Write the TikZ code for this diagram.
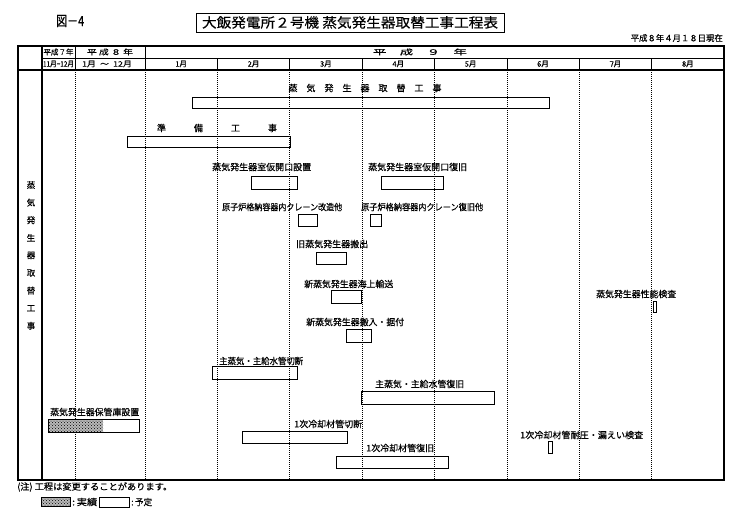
\documentclass[tikz,border=0pt]{standalone}
\usepackage{fontspec}
\usepackage{graphicx}
\setmainfont{Noto Sans CJK JP}[FakeBold=0.4]
\usetikzlibrary{patterns}
\newcommand{\fitw}[2]{\resizebox{#1pt}{\height}{#2}}
\begin{document}
\begin{tikzpicture}[x=1pt,y=-1pt,
  frame/.style={line width=1.1pt},
  rule/.style={line width=0.7pt},
  dotrule/.style={line width=0.7pt, dash pattern=on 0.7pt off 1.3pt},
  barbox/.style={draw, line width=0.9pt},
  hatch/.style={fill=gray!55, postaction={pattern=crosshatch dots, pattern color=black}},
  lbl/.style={inner sep=0pt, anchor=west, font=\fontsize{9}{10}\selectfont},
  hdr/.style={inner sep=0pt, font=\fontsize{7.5}{8}\selectfont},
  vlbl/.style={inner sep=0pt, font=\fontsize{8.5}{9}\selectfont}]
\useasboundingbox (0,0) rectangle (749,520);

% titles
\node[inner sep=0pt, anchor=west, font=\fontsize{14}{15}\selectfont] (fig) at (56,21) {\fitw{28}{図－4}};
\draw[line width=0.9pt] (196,13) rectangle (504,32);
\node[inner sep=0pt, font=\fontsize{13.5}{14}\selectfont] (title) at (350,22.5) {\fitw{296}{大飯発電所２号機\ 蒸気発生器取替工事工程表}};
\node[inner sep=0pt, anchor=east, font=\fontsize{8.5}{9}\selectfont] (date) at (723,38) {\fitw{92}{平成８年４月１８日現在}};

% table frame
\draw[frame] (18,46) rectangle (724,480);
\draw[rule] (42,58) -- (724,58);
\draw[frame] (18,70) -- (724,70);
\draw[frame] (42,46) -- (42,480);
\draw[rule] (75,46) -- (75,70);
\draw[rule] (145,46) -- (145,70);
\draw[dotrule] (75,70) -- (75,480);
\draw[dotrule] (145,70) -- (145,480);
\foreach \i [evaluate=\i as \xx using 145+72.375*\i] in {1,...,7} {
  \draw[rule] (\xx,58) -- (\xx,70);
  \draw[dotrule] (\xx,70) -- (\xx,480);
}

% header texts
\node[hdr] (h7) at (58.5,52) {\fitw{30}{平成７年}};
\node[hdr] (h8) at (110,52) {\fitw{46}{平\ 成\ ８\ 年}};
\node[hdr] (h9) at (420,52) {\fitw{94}{平\quad 成\quad ９\quad 年}};
\node[hdr] (m1112) at (58.5,64) {\fitw{31}{11月\textasciitilde 12月}};
\node[hdr] (m112) at (107,64) {\fitw{50}{1月\ \ ～\ \ 12月}};
\foreach \m [count=\i from 0, evaluate=\i as \xx using 145+72.375*(\i+0.5)] in {1,2,3,4,5,6,7,8} {
  \node[hdr] (mon\m) at (\xx,64) {\m 月};
}

% vertical label
\foreach \c [count=\i from 0, evaluate=\i as \yy using 185+17.6*\i] in {蒸,気,発,生,器,取,替,工,事} {
  \node[vlbl] (v\i) at (31,\yy) {\c};
}

% bars and labels
\node[lbl, anchor=center] (l1) at (365,88) {蒸\hskip9pt気\hskip9pt発\hskip9pt生\hskip9pt器\hskip9pt取\hskip9pt替\hskip9pt工\hskip9pt事};
\draw[barbox] (192,97) rectangle (549,108);

\node[lbl, anchor=center] (l2) at (217,128) {準\hskip28pt備\hskip28pt工\hskip28pt事};
\draw[barbox] (127,136) rectangle (290,147);

\node[lbl] (l3) at (212,167) {\fitw{99}{蒸気発生器室仮開口設置}};
\draw[barbox] (251,176) rectangle (297,189);

\node[lbl] (l4) at (368,167) {\fitw{99}{蒸気発生器室仮開口復旧}};
\draw[barbox] (381,176) rectangle (443,189);

\node[lbl] (l5) at (222,207) {\fitw{120}{原子炉格納容器内クレーン改造他}};
\draw[barbox] (298,214) rectangle (317,226);

\node[lbl] (l6) at (361,207) {\fitw{122}{原子炉格納容器内クレーン復旧他}};
\draw[barbox] (370,214) rectangle (381,226);

\node[lbl] (l7) at (296,244) {\fitw{72}{旧蒸気発生器搬出}};
\draw[barbox] (316,252) rectangle (346,264);

\node[lbl] (l8) at (304,284) {\fitw{89}{新蒸気発生器海上輸送}};
\draw[barbox] (331,290) rectangle (361,303);

\node[lbl] (l9) at (306,322) {\fitw{98}{新蒸気発生器搬入・据付}};
\draw[barbox] (346,329) rectangle (371,342);

\node[lbl] (l10) at (219,361) {\fitw{84}{主蒸気・主給水管切断}};
\draw[barbox] (212,366) rectangle (297,379);

\node[lbl] (l11) at (375,384) {\fitw{89}{主蒸気・主給水管復旧}};
\draw[barbox] (361,391) rectangle (494,404);

\node[lbl] (l12) at (50,412) {\fitw{89}{蒸気発生器保管庫設置}};
\path[hatch] (48,419) rectangle (103,432);
\draw[barbox] (48,419) rectangle (139,432);

\node[lbl] (l13) at (294,424) {\fitw{68}{1次冷却材管切断}};
\draw[barbox] (242,431) rectangle (347,443);

\node[lbl] (l14) at (366,448) {\fitw{68}{1次冷却材管復旧}};
\draw[barbox] (336,456) rectangle (448,468);

\node[lbl] (l15) at (596,294) {\fitw{80}{蒸気発生器性能検査}};
\draw[barbox] (653,301) rectangle (656,312);

\node[lbl] (l16) at (520,435) {\fitw{123}{1次冷却材管耐圧・漏えい検査}};
\draw[barbox] (548,441) rectangle (552,453);

% legend
\node[lbl] (note) at (17,487) {\fitw{155}{(注)\ 工程は変更することがあります。}};
\path[hatch] (41,497) rectangle (70,506);
\draw[line width=0.8pt] (41,497) rectangle (70,506);
\node[lbl] (done) at (72,502) {\fitw{25}{:\,実績}};
\draw[line width=0.8pt] (99,497) rectangle (129,507);
\node[lbl] (plan) at (131,502) {\fitw{21}{:\,予定}};
\end{tikzpicture}
\end{document}
